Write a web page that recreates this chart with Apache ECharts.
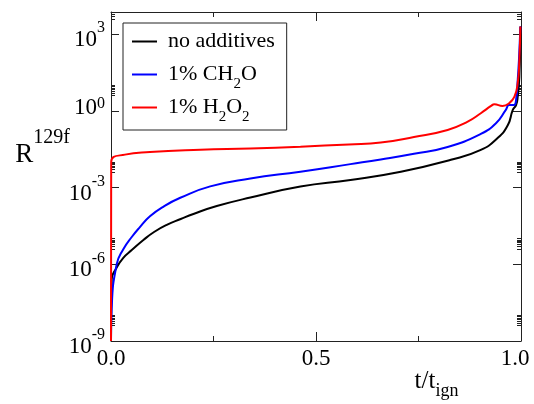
<!DOCTYPE html>
<html><head><meta charset="utf-8">
<script src="https://cdn.jsdelivr.net/npm/echarts@6/dist/echarts.min.js"></script>
<style>html,body{margin:0;padding:0;background:#fff}#c{width:534px;height:404px}</style>
</head><body><div id="c"></div>
<script>
const seriesNames = ['no additives', '1% CH2O', '1% H2O2'];
const seriesColors = ['#000000', '#0000ff', '#ff0000'];

const tNoAdd = [0, 0.0017, 0.0139, 0.030, 0.0506, 0.079, 0.105, 0.136, 0.170, 0.201, 0.258, 0.340, 0.462, 0.584, 0.707, 0.829, 0.902, 0.943, 0.968, 0.980, 0.988, 0.992, 0.996, 0.999];
const rNoAdd = [1e-9, 2.6e-7, 7.4e-7, 1.8e-6, 3.6e-6, 8.9e-6, 1.84e-5, 3.5e-5, 5.9e-5, 9.3e-5, 1.9e-4, 4.1e-4, 1.1e-3, 2.0e-3, 4.2e-3, 1.23e-2, 3.0e-2, 8.7e-2, 0.28, 1.1, 1.7, 3.6, 22, 2000];

const tCH2O = [0, 0.0017, 0.0139, 0.030, 0.0506, 0.070, 0.095, 0.130, 0.169, 0.242, 0.340, 0.462, 0.584, 0.658, 0.739, 0.821, 0.902, 0.939, 0.963, 0.971, 0.983, 0.988, 0.992, 0.995, 0.9985];
const rCH2O = [1e-9, 1.9e-8, 1.0e-6, 3.9e-6, 1.17e-5, 2.8e-5, 7.6e-5, 1.9e-4, 4.0e-4, 1.12e-3, 2.27e-3, 4.2e-3, 8.3e-3, 1.26e-2, 2.1e-2, 3.9e-2, 0.126, 0.33, 1.1, 1.7, 1.7, 2.7, 16, 98, 2000];

const tH2O2 = [0, 0.0005, 0.034, 0.095, 0.218, 0.340, 0.462, 0.580, 0.658, 0.739, 0.821, 0.870, 0.902, 0.927, 0.935, 0.955, 0.971, 0.984, 0.992, 0.996, 0.9985];
const rH2O2 = [1e-9, 1.0e-2, 1.95e-2, 2.45e-2, 3.0e-2, 3.4e-2, 4.0e-2, 4.9e-2, 5.8e-2, 9.5e-2, 0.18, 0.38, 0.81, 1.57, 1.82, 1.57, 2.0, 3.6, 12.3, 98, 2000];

const yMajorTicks = [1e-9, 1e-6, 1e-3, 1, 1e3];
const yMinorTicks = [4e-9, 5e-9, 6e-9, 7e-9, 8e-9, 9e-9, 1e-8,
                     4e-6, 5e-6, 6e-6, 7e-6, 8e-6, 9e-6, 1e-5,
                     4e-3, 5e-3, 6e-3, 7e-3, 8e-3, 9e-3, 1e-2,
                     4, 5, 6, 7, 8, 9, 10,
                     4000, 5000, 6000, 7000];
const yMin = 1e-9, yMax = 7400;

const FF = 'Liberation Serif';
const AX = '#222';

function legendLabel(name) {
  let out = '';
  let buf = '';
  let hasSub = false;
  for (let i = 0; i < name.length; i++) {
    const ch = name[i];
    if (/\d/.test(ch) && i > 0 && /[A-Za-z]/.test(name[i - 1])) {
      if (buf) { out += '{n|' + buf + '}'; buf = ''; }
      out += '{sub|' + ch + '}';
      hasSub = true;
    } else buf += ch;
  }
  if (buf) out += '{n|' + buf + '}';
  if (!hasSub) out += '{sub| }';
  return out;
}

const tArrays = [tNoAdd, tCH2O, tH2O2];
const rArrays = [rNoAdd, rCH2O, rH2O2];

const chart = echarts.init(document.getElementById('c'), null, {renderer: 'canvas'});

const yLabelRich = {
  b: {fontFamily: FF, fontSize: 23, lineHeight: 23, padding: [12, 0, 0, 0], color: '#000'},
  s: {fontFamily: FF, fontSize: 16, lineHeight: 10, padding: [0, 0, 12, 0], color: '#000'},
  b0: {fontFamily: FF, fontSize: 23, lineHeight: 23, padding: [0, 0, 5, 0], color: '#000'},
  s0: {fontFamily: FF, fontSize: 16, lineHeight: 10, padding: [0, 0, 15, 0], color: '#000'}
};

function yLabel(v) {
  const e = Math.round(Math.log10(v));
  return e === 0 ? '{b0|10}{s0|0}' : '{b|10}{s|' + e + '}';
}

const option = {
  animation: false,
  backgroundColor: '#fff',
  grid: {left: 111, right: 13, top: 12, bottom: 63, containLabel: false, outerBoundsMode: 'none'},
  xAxis: [{
    type: 'value', position: 'bottom', min: 0, max: 1, interval: 0.5,
    axisLine: {show: true, lineStyle: {color: AX, width: 1}},
    axisTick: {show: true, inside: true, length: 9, lineStyle: {color: AX}},
    minorTick: {show: true, splitNumber: 2, length: 5, lineStyle: {color: AX}},
    splitLine: {show: false},
    axisLabel: {fontFamily: FF, fontSize: 23, color: '#000', margin: 6,
      formatter: v => v === 1 ? '{r|' + v.toFixed(1) + '}' : v.toFixed(1),
      rich: {r: {fontFamily: FF, fontSize: 23, color: '#000', padding: [0, 12, 0, 0]}}},
    name: '{t|t/t}{s|ign}', nameLocation: 'middle', nameGap: 27, nameMoveOverlap: false,
    nameTextStyle: {padding: [0, 0, 0, 241], rich: {
      t: {fontFamily: FF, fontSize: 25, lineHeight: 26, color: '#000'},
      s: {fontFamily: FF, fontSize: 18, lineHeight: 10, padding: [20, 0, 0, 0], color: '#000'}
    }}
  }, {
    type: 'value', position: 'top', min: 0, max: 1, interval: 0.5,
    axisLine: {show: true, lineStyle: {color: AX, width: 1}},
    axisTick: {show: true, inside: true, length: 9, lineStyle: {color: AX}},
    minorTick: {show: true, splitNumber: 2, length: 5, lineStyle: {color: AX}},
    splitLine: {show: false}, axisLabel: {show: false}
  }],
  yAxis: [{
    type: 'log', logBase: 10, position: 'left', min: yMin, max: yMax,
    axisLine: {show: true, lineStyle: {color: AX, width: 1}},
    axisTick: {show: true, inside: true, length: 8, customValues: yMajorTicks, lineStyle: {color: AX}},
    splitLine: {show: false},
    axisLabel: {customValues: yMajorTicks, margin: 6, formatter: yLabel, rich: yLabelRich},
    name: '{r|R}{s|129f}', nameLocation: 'middle', nameRotate: 0, nameGap: 41, nameMoveOverlap: false,
    nameTextStyle: {padding: [0, 0, 44, 0], rich: {
      r: {fontFamily: FF, fontSize: 27, lineHeight: 27, color: '#000'},
      s: {fontFamily: FF, fontSize: 20, lineHeight: 12, padding: [0, 0, 33, 0], color: '#000'}
    }}
  }, {
    type: 'log', logBase: 10, position: 'left', min: yMin, max: yMax,
    axisLine: {show: false},
    axisTick: {show: true, inside: true, length: 4, customValues: yMinorTicks, lineStyle: {color: AX}},
    splitLine: {show: false}, axisLabel: {show: false}
  }, {
    type: 'log', logBase: 10, position: 'right', min: yMin, max: yMax,
    axisLine: {show: true, lineStyle: {color: AX, width: 1}},
    axisTick: {show: true, inside: true, length: 8, customValues: yMajorTicks, lineStyle: {color: AX}},
    splitLine: {show: false}, axisLabel: {show: false}
  }, {
    type: 'log', logBase: 10, position: 'right', min: yMin, max: yMax,
    axisLine: {show: false},
    axisTick: {show: true, inside: true, length: 4, customValues: yMinorTicks, lineStyle: {color: AX}},
    splitLine: {show: false}, axisLabel: {show: false}
  }],
  legend: {
    orient: 'vertical', left: 123, top: 23,
    padding: [1, 8, 5, 9], itemGap: -2, itemWidth: 25, itemHeight: 2, icon: 'rect',
    borderColor: AX, borderWidth: 1, backgroundColor: '#fff',
    data: seriesNames,
    formatter: name => legendLabel(name),
    textStyle: {fontFamily: FF, fontSize: 22, color: '#000', padding: [0, 0, 0, 6], rich: {
      n: {fontFamily: FF, fontSize: 22, lineHeight: 30, color: '#000'},
      sub: {fontFamily: FF, fontSize: 15, lineHeight: 10, padding: [20, 0, 0, 0], color: '#000'}
    }}
  },
  series: seriesNames.map((name, k) => ({
    name: name, type: 'line', xAxisIndex: 0, yAxisIndex: 0,
    showSymbol: false, smooth: 0.5,
    lineStyle: {color: seriesColors[k], width: 2},
    itemStyle: {color: seriesColors[k]},
    data: tArrays[k].map((t, i) => [t, rArrays[k][i]])
  }))
};
chart.setOption(option);
</script></body></html>
